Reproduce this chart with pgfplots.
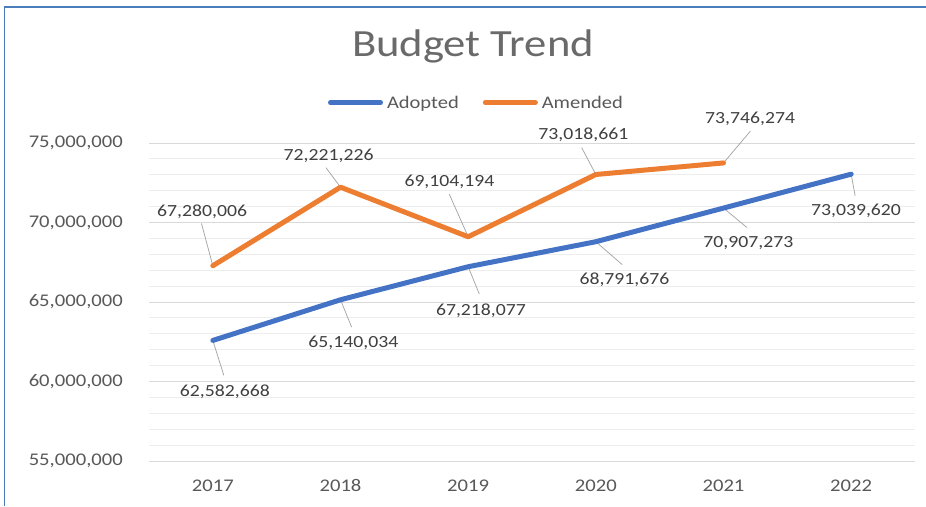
\documentclass[border=0pt]{standalone}
\usepackage{fontspec}
\setmainfont{Carlito}[FakeStretch=1.16]
\usepackage{pgfplots}
\pgfplotsset{compat=1.18}
\usepackage{pgfplotstable}
\definecolor{cblue}{HTML}{4472C4}
\definecolor{corange}{HTML}{ED7D31}
\definecolor{tgray}{HTML}{595959}
\definecolor{titlegray}{HTML}{6A6A6A}
\definecolor{lgray}{HTML}{404040}
\definecolor{gridA}{HTML}{D9D9D9}
\definecolor{gridB}{HTML}{EDEDED}
\definecolor{leader}{HTML}{A6A6A6}
\definecolor{frameblue}{HTML}{4A7EBB}

\pgfplotstableread{
x y lx ly ex ey lab
0 62582668 0.094 59450000 0.086 60390000 62,582,668
1 65140034 1.101 62490000 1.087 63420000 65,140,034
2 67218077 2.100 64500000 2.087 65510000 67,218,077
3 68791676 3.224 66470000 3.207 67350000 68,791,676
4 70907273 4.195 68780000 4.183 69690000 70,907,273
5 73039620 5.038 70770000 5.031 71680000 73,039,620
}\adopted

\pgfplotstableread{
x y lx ly ex ey lab
0 67280006 -0.084 70760000 -0.089 69940000 67,280,006
1 72221226 0.907 74260000 0.886 73450000 72,221,226
2 69104194 1.853 72620000 1.852 71780000 69,104,194
3 73018661 2.902 75600000 2.889 74710000 73,018,661
4 73746274 4.208 76570000 4.211 75750000 73,746,274
}\amended

\begin{document}
\begin{tikzpicture}
\useasboundingbox (0,0) rectangle (926pt,506pt);
\fill[white] (0,0) rectangle (926pt,506pt);
\draw[frameblue, line width=1.2pt] (4.5pt,0pt) -- (4.5pt,499pt) -- (926pt,499pt);
\begin{axis}[
  at={(149pt,45pt)}, anchor=south west,
  scale only axis, width=766pt, height=318pt,
  xmin=-0.5, xmax=5.5, ymin=55000000, ymax=75000000,
  xtick={0,1,2,3,4,5},
  xticklabels={2017,2018,2019,2020,2021,2022},
  ytick={55000000,60000000,65000000,70000000,75000000},
  yticklabels={{55,000,000},{60,000,000},{65,000,000},{70,000,000},{75,000,000}},
  minor ytick={56000000,57000000,58000000,59000000,61000000,62000000,63000000,64000000,66000000,67000000,68000000,69000000,71000000,72000000,73000000,74000000},
  ymajorgrids, yminorgrids,
  major grid style={gridA, line width=0.9pt},
  minor grid style={gridB, line width=0.9pt},
  axis line style={draw=none},
  major tick length=0pt, minor tick length=0pt,
  scaled y ticks=false,
  tick label style={font=\fontsize{17.8}{20}\selectfont, text=tgray},
  yticklabel style={anchor=east, inner sep=0pt, xshift=-26pt},
  xticklabel style={anchor=base, inner sep=0pt, yshift=-30pt},
  clip=false,
  title={Budget Trend},
  title style={at={(axis description cs:0.423,1.252)}, anchor=base, font=\fontsize{38.5}{44}\selectfont, text=titlegray, inner sep=0pt},
  legend columns=2,
  legend style={at={(axis description cs:0.4275,1.127)}, anchor=center, draw=none, fill=none,
    font=\fontsize{17.7}{20}\selectfont, text=tgray,
    /tikz/every odd column/.append style={column sep=2pt},
    /tikz/every even column/.append style={column sep=22pt}},
  legend image code/.code={\draw[#1] (0pt,0pt) -- (50pt,0pt);},
]
\addplot[forget plot, leader, line width=0.75pt,
  quiver={u=\thisrow{ex}-\thisrow{x}, v=\thisrow{ey}-\thisrow{y}}]
  table[x=x,y=y]{\adopted};
\addplot[forget plot, leader, line width=0.75pt,
  quiver={u=\thisrow{ex}-\thisrow{x}, v=\thisrow{ey}-\thisrow{y}}]
  table[x=x,y=y]{\amended};
\addplot[cblue, line width=5pt, line cap=round, line join=round] table[x=x,y=y]{\adopted};
\addlegendentry{Adopted}
\addplot[corange, line width=5pt, line cap=round, line join=round] table[x=x,y=y]{\amended};
\addlegendentry{Amended}
\addplot[forget plot, draw=none, nodes near coords, point meta=explicit symbolic,
  every node near coord/.style={anchor=center, inner sep=0pt, text depth=0pt,
    font=\fontsize{17}{20}\selectfont, text=lgray}]
  table[x=lx,y=ly,meta=lab]{\adopted};
\addplot[forget plot, draw=none, nodes near coords, point meta=explicit symbolic,
  every node near coord/.style={anchor=center, inner sep=0pt, text depth=0pt,
    font=\fontsize{17}{20}\selectfont, text=lgray}]
  table[x=lx,y=ly,meta=lab]{\amended};
\end{axis}
\end{tikzpicture}
\end{document}
